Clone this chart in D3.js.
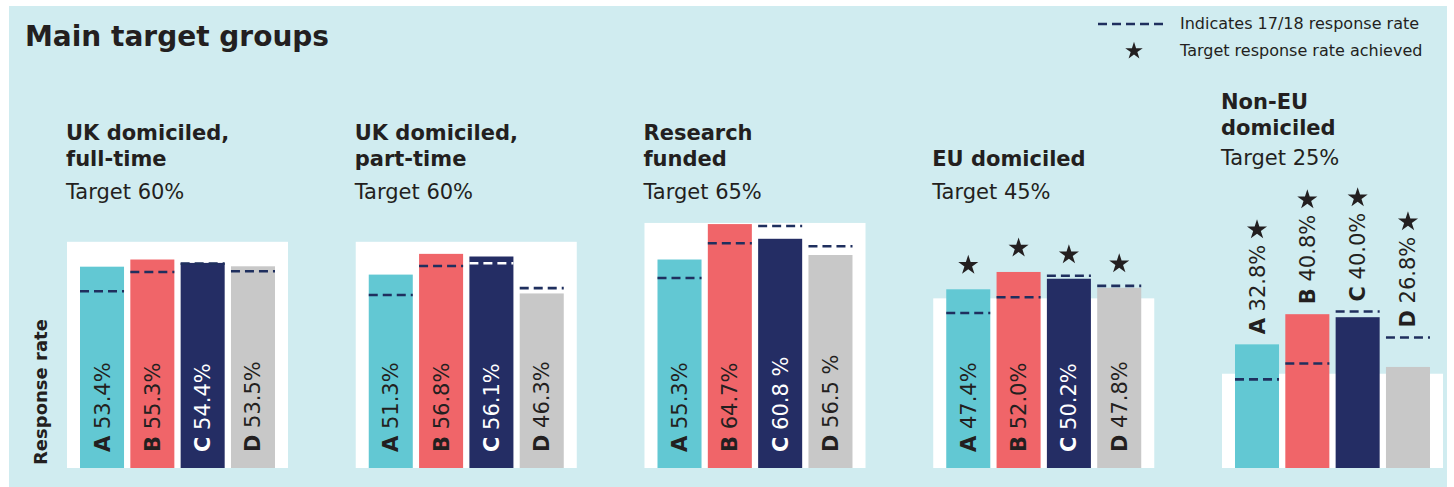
<!DOCTYPE html>
<html>
<head>
<meta charset="utf-8">
<script src="https://cdn.jsdelivr.net/npm/d3@7"></script>
<style>
  html, body { margin: 0; padding: 0; background: #fff; }
  svg { display: block; font-family: "DejaVu Sans", Verdana, sans-serif; }
</style>
</head>
<body>
<div id="chart"></div>
<script>
// Response rates by institution for each target group
const groupTitles = [
  ['UK domiciled,', 'full-time'],
  ['UK domiciled,', 'part-time'],
  ['Research', 'funded'],
  ['EU domiciled'],
  ['Non-EU', 'domiciled']
];
const targets = [60, 60, 65, 45, 25];
const institutions = ['A', 'B', 'C', 'D'];
const rates = [
  [53.4, 55.3, 54.4, 53.5],
  [51.3, 56.8, 56.1, 46.3],
  [55.3, 64.7, 60.8, 56.5],
  [47.4, 52.0, 50.2, 47.8],
  [32.8, 40.8, 40.0, 26.8]
];
const rateLabels = [
  ['53.4%', '55.3%', '54.4%', '53.5%'],
  ['51.3%', '56.8%', '56.1%', '46.3%'],
  ['55.3%', '64.7%', '60.8 %', '56.5 %'],
  ['47.4%', '52.0%', '50.2%', '47.8%'],
  ['32.8%', '40.8%', '40.0%', '26.8%']
];
// 17/18 response rates (dashed lines)
const prevRates = [
  [46.9, 52.0, 54.2, 52.2],
  [45.9, 53.6, 54.3, 47.7],
  [50.4, 59.6, 64.2, 58.8],
  [41.1, 45.3, 51.0, 48.3],
  [23.5, 27.7, 41.5, 34.6]
];

const colors = { A: '#62c8d3', B: '#f06569', C: '#242d64', D: '#c8c8c8' };
const textDark = '#231f20';
const dashNavy = '#1f2f5e';

const W = 1454, H = 487;
const svg = d3.select('#chart').append('svg').attr('width', W).attr('height', H);

svg.append('rect').attr('x', 9).attr('y', 6).attr('width', 1438).attr('height', 481).attr('fill', '#d0ecf0');

svg.append('text')
  .attr('x', 25).attr('y', 46)
  .attr('font-size', '28px').attr('font-weight', 'bold').attr('fill', textDark)
  .text('Main target groups');

// legend
const legend = svg.append('g');
legend.append('line')
  .attr('x1', 1098).attr('x2', 1168).attr('y1', 24).attr('y2', 24)
  .attr('stroke', dashNavy).attr('stroke-width', 2.5).attr('stroke-dasharray', '9,5');
legend.append('text').attr('x', 1180).attr('y', 29)
  .attr('font-size', '16px').attr('fill', textDark).text('Indicates 17/18 response rate');
legend.append('path')
  .attr('d', d3.symbol(d3.symbolStar, 95)())
  .attr('transform', 'translate(1134,51)').attr('fill', textDark);
legend.append('text').attr('x', 1180).attr('y', 56)
  .attr('font-size', '16px').attr('fill', textDark).text('Target response rate achieved');

svg.append('text')
  .attr('transform', 'translate(47,465) rotate(-90)')
  .attr('font-size', '18px').attr('font-weight', 'bold').attr('fill', textDark)
  .text('Response rate');

const yScale = d3.scaleLinear().domain([0, 100]).range([468, 91]);
const panelScale = d3.scaleBand()
  .domain(d3.range(groupTitles.length))
  .range([67, 1443])
  .paddingInner(0.2346);

groupTitles.forEach((lines, gi) => {
  const left = panelScale(gi);
  const pw = panelScale.bandwidth();
  const g = svg.append('g');
  const last = gi === groupTitles.length - 1;

  // title block, bottom line aligned
  const titleBase = last ? 135 : 166;
  lines.forEach((line, li) => {
    g.append('text')
      .attr('x', left - 1)
      .attr('y', titleBase - (lines.length - 1 - li) * 26)
      .attr('font-size', '21px').attr('font-weight', 'bold').attr('fill', textDark)
      .text(line);
  });
  g.append('text')
    .attr('x', left - 1).attr('y', titleBase + (last ? 30 : 33))
    .attr('font-size', '21px').attr('fill', textDark)
    .text(`Target ${targets[gi]}%`);

  // target area
  g.append('rect')
    .attr('x', left).attr('y', yScale(targets[gi]))
    .attr('width', pw).attr('height', yScale(0) - yScale(targets[gi]))
    .attr('fill', '#fff');

  const xScale = d3.scaleBand()
    .domain(institutions)
    .range([left + 13, left + 208])
    .paddingInner(0.125);

  const data = institutions.map((inst, i) => ({
    inst, value: rates[gi][i], prev: prevRates[gi][i], label: rateLabels[gi][i]
  }));

  g.selectAll('.bar').data(data).enter()
    .append('rect')
    .attr('class', 'bar')
    .attr('x', d => xScale(d.inst))
    .attr('y', d => yScale(d.value))
    .attr('width', xScale.bandwidth())
    .attr('height', d => yScale(0) - yScale(d.value))
    .attr('fill', d => colors[d.inst]);

  g.selectAll('.prev').data(data).enter()
    .append('line')
    .attr('class', 'prev')
    .attr('x1', d => xScale(d.inst))
    .attr('x2', d => xScale(d.inst) + xScale.bandwidth())
    .attr('y1', d => yScale(d.prev))
    .attr('y2', d => yScale(d.prev))
    .attr('stroke', d => (d.inst === 'C' && d.prev < d.value - 0.3) ? '#fff' : dashNavy)
    .attr('stroke-width', 2.6)
    .attr('stroke-dasharray', '9,5');

  data.forEach(d => {
    const cx = xScale(d.inst) + xScale.bandwidth() / 2;
    const inside = !last;
    const startY = inside ? yScale(0) - 16 : Math.min(yScale(d.value), yScale(d.prev)) - 10;
    const fill = inside && d.inst === 'C' ? '#fff' : textDark;
    const t = g.append('text')
      .attr('transform', `translate(${cx + 7.5},${startY}) rotate(-90)`)
      .attr('font-size', '21px').attr('fill', fill);
    t.append('tspan').attr('font-weight', 'bold').text(d.inst);
    t.append('tspan').text(' ' + d.label);

    if (d.value >= targets[gi]) {
      const len = t.node().getComputedTextLength();
      const sy = inside ? yScale(d.value) - 24 : startY - len - 15;
      g.append('path')
        .attr('d', d3.symbol(d3.symbolStar, 125)())
        .attr('transform', `translate(${cx},${sy})`)
        .attr('fill', textDark);
    }
  });
});
</script>
</body>
</html>
